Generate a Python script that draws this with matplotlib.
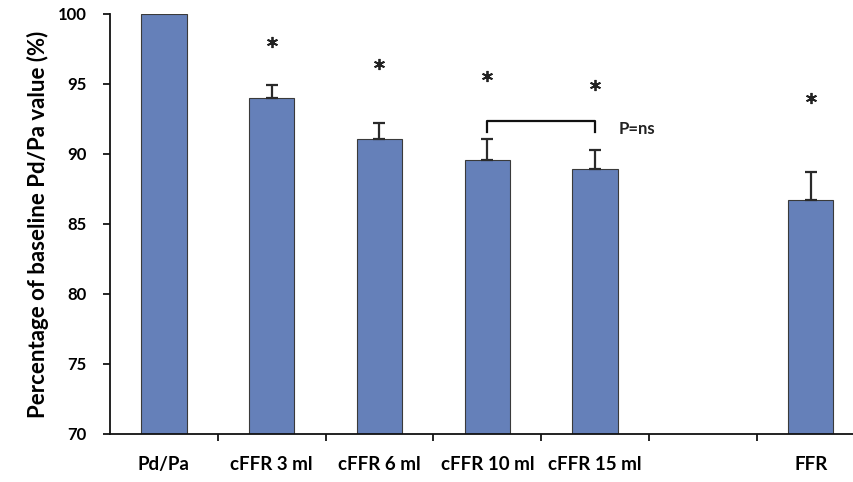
import numpy as np
import matplotlib.pyplot as plt
from matplotlib.ticker import FixedLocator

plt.rcParams["font.family"] = ["Lato", "DejaVu Sans"]
plt.rcParams["font.weight"] = "bold"
plt.rcParams["axes.labelweight"] = "bold"

categories = ["Pd/Pa", "cFFR 3 ml", "cFFR 6 ml", "cFFR 10 ml", "cFFR 15 ml", "", "FFR"]
values = [100.0, 94.0, 91.1, 89.6, 88.9, np.nan, 86.7]
errors = [0.0, 0.9, 1.1, 1.5, 1.35, np.nan, 2.0]
star_y = [np.nan, 98.0, 96.4, 95.6, 94.9, np.nan, 94.0]

BAR_COLOR = "#6580b9"
EDGE = "#3a3a3a"

fig = plt.figure(figsize=(8.54, 4.82), dpi=100)
ax = fig.add_axes([0.1288, 0.0996, 0.8712, 0.8714])

x = np.arange(len(categories))
vals = np.array(values)
errs = np.array(errors)
has = ~np.isnan(vals)
ax.bar(x[has], vals[has] - 70, bottom=70, width=0.42, color=BAR_COLOR,
       edgecolor=EDGE, linewidth=0.8, zorder=2)

# upper error bars only
err_idx = has & (np.nan_to_num(errs) > 0)
ax.errorbar(x[err_idx], vals[err_idx], yerr=[np.zeros(err_idx.sum()), errs[err_idx]],
            fmt="none", ecolor="#2a2a2a", elinewidth=1.6, capsize=4, capthick=1.6, zorder=3)

# significance asterisks
sy = np.array(star_y)
ok = ~np.isnan(sy)
ax.plot(x[ok], sy[ok], linestyle="none", marker=(6, 2, 0), markersize=8,
        markeredgewidth=1.3, color="#222222", zorder=3)

# bracket between 10 ml and 15 ml
ax.plot([3, 3, 4, 4], [91.6, 92.36, 92.36, 91.6], color="#111111", lw=1.6,
        solid_joinstyle="round", zorder=3)
ax.text(4.22, 91.75, "P=ns", ha="left", va="center", fontsize=12,
        fontweight="bold", color="#222222")

ax.set_ylim(70, 100)
ax.set_xlim(-0.5, -0.5 + 744 / 107.8)
ax.set_yticks(np.arange(70, 101, 5))
ax.set_xticks(x)
ax.set_xticklabels(categories, fontsize=13.5)
ax.xaxis.set_minor_locator(FixedLocator(np.arange(0.5, 6.6, 1.0)))
ax.tick_params(axis="x", which="major", length=0, pad=16)
ax.tick_params(axis="x", which="minor", length=5, width=1.2, direction="out")
ax.tick_params(axis="y", length=5, width=1.2, labelsize=12, pad=12)

for s in ("top", "right"):
    ax.spines[s].set_visible(False)
for s in ("left", "bottom"):
    ax.spines[s].set_linewidth(1.3)
    ax.spines[s].set_color("#111111")

ax.set_ylabel("Percentage of baseline Pd/Pa value (%)", fontsize=16, labelpad=6)

fig.savefig("out.png", dpi=100)
